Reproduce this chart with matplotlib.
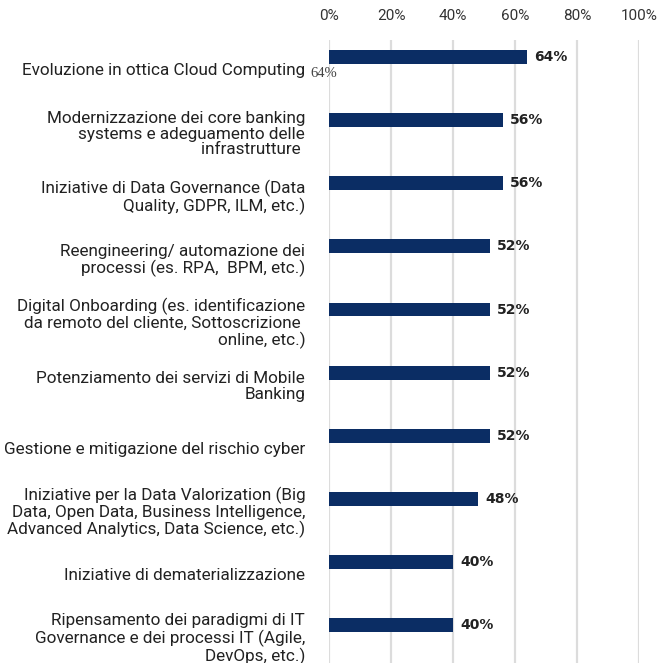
import numpy as np
import matplotlib.pyplot as plt
from matplotlib.ticker import FuncFormatter

labels = [
    "Evoluzione in ottica Cloud Computing",
    "Modernizzazione dei core banking\nsystems e adeguamento delle\ninfrastrutture ",
    "Iniziative di Data Governance (Data\nQuality, GDPR, ILM, etc.)",
    "Reengineering/ automazione dei\nprocessi (es. RPA,  BPM, etc.)",
    "Digital Onboarding (es. identificazione\nda remoto del cliente, Sottoscrizione \nonline, etc.)",
    "Potenziamento dei servizi di Mobile\nBanking",
    "Gestione e mitigazione del rischio cyber",
    "Iniziative per la Data Valorization (Big\nData, Open Data, Business Intelligence,\nAdvanced Analytics, Data Science, etc.)",
    "Iniziative di dematerializzazione",
    "Ripensamento dei paradigmi di IT\nGovernance e dei processi IT (Agile,\nDevOps, etc.)",
]
values = [64, 56, 56, 52, 52, 52, 52, 48, 40, 40]
ticks = [0, 20, 40, 60, 80, 100]

W, H = 660, 663
fig = plt.figure(figsize=(W / 100, H / 100), dpi=100)
ax = fig.add_axes([329 / W, 0, 310 / W, 1 - 40 / H])

y = np.arange(len(values))
ax.barh(y, values, height=0.22, color="#0b2d64", zorder=3)

ax.set_xlim(0, 100)
ax.set_ylim(9.6, -0.27)
ax.set_xticks(ticks)
ax.xaxis.set_major_formatter(FuncFormatter(lambda v, p: f"{v:.0f}%"))
ax.xaxis.tick_top()
ax.tick_params(axis="x", length=0, pad=12, labelsize=11, labelcolor="#333333")
for t in ax.get_xticklabels():
    t.set_fontfamily("Roboto")
ax.set_yticks([])
ax.grid(axis="x", color="#dcdcdc", linewidth=1.6, zorder=0)
for s in ax.spines.values():
    s.set_visible(False)

for i, (lab, v) in enumerate(zip(labels, values)):
    ax.text(-7.7, i + 0.22, lab, ha="right", va="center", multialignment="right",
            fontsize=12.3, family="Roboto", color="#222222", linespacing=1.07,
            clip_on=False)
    ax.text(v + 2.3, i, f"{v}%", ha="left", va="center", fontsize=10,
            fontweight="bold", family="DejaVu Sans", color="#222222")

# stray label next to the first category
ax.text(-6.1, 0.26, "64%", ha="left", va="center", fontsize=10.5,
        family="Liberation Serif", color="#444444", clip_on=False)

fig.savefig("out.png", dpi=100)
